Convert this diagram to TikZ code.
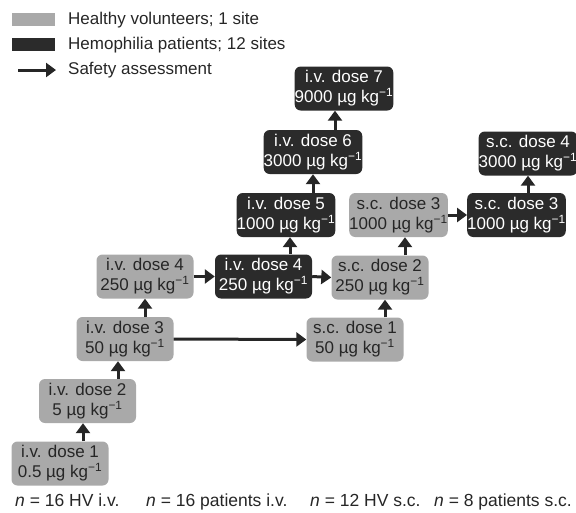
\documentclass[tikz,border=0pt]{standalone}
\usepackage{fontspec}
\setmainfont{Liberation Sans}
\usetikzlibrary{arrows.meta}
\definecolor{hvgray}{HTML}{A9A9A9}
\definecolor{ptdark}{HTML}{2B2B2B}
\definecolor{inkc}{HTML}{262626}
\newcommand\dosekg[1]{#1 µg kg\textsuperscript{−1}}
\tikzset{
  dosebox/.style={rectangle, rounded corners=6pt, minimum width=97pt, minimum height=44pt,
    inner sep=0pt, align=center, font=\fontsize{17}{20}\selectfont},
  hvbox/.style={dosebox, fill=hvgray, text=inkc},
  ptbox/.style={dosebox, fill=ptdark, text=white},
  safety/.style={draw=inkc, line width=3pt, -{Triangle[width=14pt,length=10pt]}},
  legtext/.style={anchor=west, inner sep=0pt, text=inkc, font=\fontsize{17}{20}\selectfont},
  foot/.style={anchor=base west, inner sep=0pt, text=inkc, font=\fontsize{17.5}{20}\selectfont}
}
\begin{document}
\begin{tikzpicture}[x=1pt, y=-1pt]
\useasboundingbox (0,0) rectangle (576,512);

% legend
\fill[hvgray] (12,13) rectangle (55,26);
\fill[ptdark] (12,38) rectangle (55,51);
\coordinate (lega) at (18,70);
\coordinate (legb) at (56,70);
\draw[safety] (lega) -- (legb);
\node[legtext] (leg1) at (68,20) {Healthy volunteers; 1 site};
\node[legtext] (leg2) at (68,45) {Hemophilia patients; 12 sites};
\node[legtext] (leg3) at (68,70) {Safety assessment};

% intravenous arm
\node[hvbox] (iv1) at (60,463.5) {i.v. dose 1\\\dosekg{0.5}};
\node[hvbox] (iv2) at (87.5,401) {i.v. dose 2\\\dosekg{5}};
\node[hvbox] (iv3) at (125,339) {i.v. dose 3\\\dosekg{50}};
\node[hvbox] (iv4h) at (145,276.5) {i.v. dose 4\\\dosekg{250}};
\node[ptbox] (iv4p) at (263.5,276.5) {i.v. dose 4\\\dosekg{250}};
\node[ptbox] (iv5) at (286,215) {i.v. dose 5\\\dosekg{1000}};
\node[ptbox] (iv6) at (313,152) {i.v. dose 6\\\dosekg{3000}};
\node[ptbox] (iv7) at (344,88.5) {i.v. dose 7\\\dosekg{9000}};

% subcutaneous arm
\node[hvbox] (sc1) at (355,339.5) {s.c. dose 1\\\dosekg{50}};
\node[hvbox] (sc2) at (380,277.5) {s.c. dose 2\\\dosekg{250}};
\node[hvbox] (sc3h) at (398.5,215) {s.c. dose 3\\\dosekg{1000}};
\node[ptbox] (sc3p) at (516.5,215) {s.c. dose 3\\\dosekg{1000}};
\node[ptbox] (sc4) at (528,153.5) {s.c. dose 4\\\dosekg{3000}};

% arrow columns
\coordinate (x1) at (83,0);
\coordinate (x2) at (118,0);
\coordinate (x3) at (145,0);
\coordinate (x4) at (290,0);
\coordinate (x5) at (313,0);
\coordinate (x6) at (335,0);
\coordinate (x7) at (385,0);
\coordinate (x8) at (405,0);
\coordinate (x9) at (528,0);

\draw[safety] (iv1.north -| x1) -- (iv2.south -| x1);
\draw[safety] (iv2.north -| x2) -- (iv3.south -| x2);
\draw[safety] (iv3.north -| x3) -- (iv4h.south -| x3);
\draw[safety] (iv4h.east) -- (iv4p.west);
\draw[safety] (iv4p.north -| x4) -- (iv5.south -| x4);
\draw[safety] (iv5.north -| x5) -- (iv6.south -| x5);
\draw[safety] (iv6.north -| x6) -- (iv7.south -| x6);
\draw[safety] (iv4p.east) -- (sc2.west);
\draw[safety] (iv3.east) -- (sc1.west);
\draw[safety] (sc1.north -| x7) -- (sc2.south -| x7);
\draw[safety] (sc2.north -| x8) -- (sc3h.south -| x8);
\draw[safety] (sc3h.east) -- (sc3p.west);
\draw[safety] (sc3p.north -| x9) -- (sc4.south -| x9);

% group sizes
\node[foot] (n1) at (15,506) {\textit{n} = 16 HV i.v.};
\node[foot] (n2) at (146,506) {\textit{n} = 16 patients i.v.};
\node[foot] (n3) at (310,506) {\textit{n} = 12 HV s.c.};
\node[foot] (n4) at (434,506) {\textit{n} = 8 patients s.c.};
\end{tikzpicture}
\end{document}
